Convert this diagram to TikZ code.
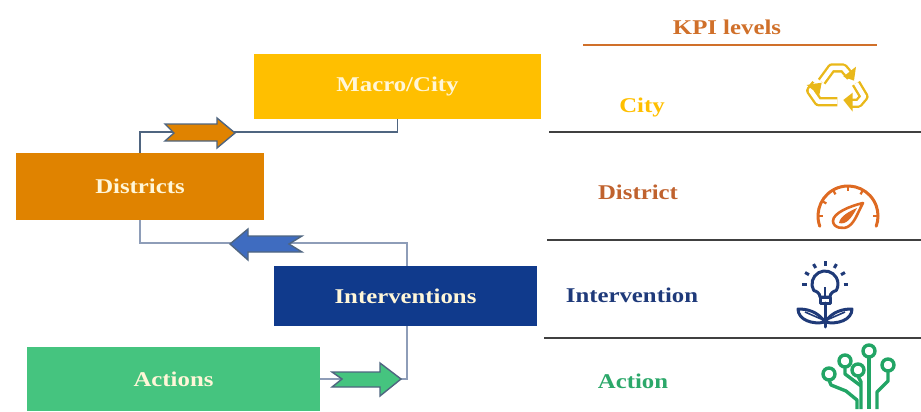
\documentclass[tikz,border=0pt]{standalone}
\usepackage{fontspec}
\setmainfont[FakeStretch=1.18]{Liberation Serif}
\usetikzlibrary{arrows.meta,calc}
\definecolor{cityY}{HTML}{FFBF00}
\definecolor{distO}{HTML}{E08300}
\definecolor{intB}{HTML}{103A8C}
\definecolor{actG}{HTML}{45C47F}
\definecolor{kpiO}{HTML}{D0702A}
\definecolor{distT}{HTML}{C0622E}
\definecolor{intT}{HTML}{1F3A7A}
\definecolor{actT}{HTML}{2CA86A}
\definecolor{wireA}{HTML}{4F6580}
\definecolor{wireB}{HTML}{8E9DB8}
\definecolor{blueA}{HTML}{3F6CC0}
\definecolor{iconR}{HTML}{DE6A22}
\definecolor{iconG}{HTML}{E9B81A}
\definecolor{iconN}{HTML}{1F3A78}
\definecolor{iconC}{HTML}{22A565}
\definecolor{cream}{HTML}{FFF6D8}
\tikzset{
  box/.style={rectangle,inner sep=0pt,text=cream,font=\fontsize{21}{21}\selectfont\bfseries},
  lvl/.style={inner sep=0pt,font=\fontsize{21}{21}\selectfont\bfseries},
  rule/.style={draw=black!75,line width=1.6pt},
  wire/.style={draw=wireA,line width=1.6pt},
  wirel/.style={draw=wireB,line width=2pt},
  blockarrow/.style={draw=wireA,line width=1.4pt,line join=miter},
  ic/.style={line width=3pt,line cap=round,line join=round},
  band/.style={draw=iconG,double=white,line width=2.4pt,double distance=4.5pt,line join=round}
}
\begin{document}
\begin{tikzpicture}[x=1pt,y=-1pt]
\useasboundingbox (0,0) rectangle (921,412);
% boxes
\node[box,fill=cityY,minimum width=287pt,minimum height=65pt] (macro) at (397.5,86.5) {Macro/City};
\node[box,fill=distO,minimum width=248pt,minimum height=67pt] (districts) at (140,186.5) {Districts};
\node[box,fill=intB,minimum width=263pt,minimum height=60pt] (interv) at (405.5,296) {Interventions};
\node[box,fill=actG,minimum width=293pt,minimum height=64pt] (actions) at (173.5,379) {Actions};
% connectors
\coordinate (jv) at (407,379);
\draw[wire] (macro.south) -- ++(0,12.5) -| (districts.north);
\draw[wirel] (districts.south) -- ++(0,23) -| ([xshift=1.5pt]interv.north);
\draw[wirel] ([xshift=1.5pt]interv.south) -- (jv) -- (actions.east |- jv);
% block arrows
\draw[blockarrow,fill=distO] (165,124)--(217,124)--(217,118)--(235,133)--(217,148)--(217,141)--(165,141)--(174,133)--cycle;
\draw[blockarrow,fill=blueA] (302,236)--(248,236)--(248,229)--(230,244)--(248,260)--(248,252)--(302,252)--(289,244)--cycle;
\draw[blockarrow,fill=actG] (332,372)--(380,372)--(380,363)--(401,379)--(380,396)--(380,387)--(332,387)--(342,379)--cycle;
% right column
\node[lvl,text=kpiO] (kpi) at (727,27) {KPI levels};
\coordinate (ka) at (583,45); \coordinate (kb) at (877,45);
\draw[kpiO,line width=1.2pt] (ka) -- (kb);
\coordinate (r1a) at (549,132); \coordinate (r1b) at (921,132);
\coordinate (r2a) at (547,240); \coordinate (r2b) at (921,240);
\coordinate (r3a) at (544,338); \coordinate (r3b) at (921,338);
\draw[rule] (r1a) -- (r1b);
\draw[rule] (r2a) -- (r2b);
\draw[rule] (r3a) -- (r3b);
\node[lvl,text=cityY] (lcity) at (642,107) {City};
\node[lvl,text=distT] (ldist) at (638,192) {District};
\node[lvl,text=intT] (lint) at (632,295) {Intervention};
\node[lvl,text=actT] (lact) at (633,381) {Action};
% recycle icon (coordinates in thirds of a pixel from 780,60)
\begin{scope}[shift={(780,60)},x=0.3333pt,y=-0.3333pt]
\draw[band] (125,65)--(155,24)--(190,24)--(212,50);
\draw[band] (228,70)--(252,110)--(235,130)--(210,130);
\draw[band] (172,125)--(115,125)--(92,92)--(108,72);
\fill[iconG] (228,20)--(222,62)--(190,50)--cycle;
\fill[iconG] (190,120)--(218,98)--(218,155)--cycle;
\fill[iconG] (80,75)--(125,68)--(118,105)--cycle;
\end{scope}
% gauge icon
\begin{scope}[shift={(848,216)},iconR]
\draw[ic] (160:30) arc[start angle=160,end angle=380,radius=30];
\foreach \a in {180,210,240,270,300,360}{
  \draw[line width=2.2pt] (\a:30) -- (\a:25);
}
\draw[line width=2.6pt,line join=round] (15,-13) .. controls (2,-10) and (-15,-3) .. (-15,5)
   .. controls (-15,12) and (-4,14) .. (1,10) .. controls (7,6) and (10,-4) .. (15,-13) -- cycle;
\fill (9,-8) .. controls (2,-5) and (-8,0) .. (-9,7) .. controls (-2,9) and (3,3) .. (9,-8);
\end{scope}
% bulb icon
\begin{scope}[shift={(825,284)},iconN]
\draw[ic] (-5,13) .. controls (-5,9) and (-9,7) .. (150:13) arc[start angle=150,end angle=390,radius=13] .. controls (9,7) and (5,9) .. (5,13) -- cycle;
\draw[ic] (-5,13) rectangle (5,19);
\draw[line width=2pt] (0,3) -- (0,13);
\draw[ic] (0,19) -- (0,43);
\draw[ic] (0,38) .. controls (-8,27) and (-18,25) .. (-27,25) .. controls (-27,36) and (-12,41) .. (0,38);
\draw[ic] (0,38) .. controls (8,27) and (18,25) .. (27,25) .. controls (27,36) and (12,41) .. (0,38);
\draw[line width=1.6pt] (-20,28) -- (-4,35);
\draw[line width=1.6pt] (20,28) -- (4,35);
\foreach \a in {180,210,240,270,300,330,360}{
  \draw[line width=3pt] (\a:18.5) -- (\a:23);
}
\end{scope}
% circuit icon
\begin{scope}[iconC,line width=3.4pt,line join=round]
\draw (829,374) circle[radius=6];
\draw (845,361) circle[radius=6];
\draw (858,370) circle[radius=6];
\draw (869,351) circle[radius=6];
\draw (888,365) circle[radius=6];
\draw (869,357) -- (869,409);
\draw (858,376) -- (861,382) -- (861,409);
\draw (845,367) -- (845,374) -- (861,386);
\draw (829,380) -- (831,385) -- (846,391) -- (857,400) -- (857,409);
\draw (888,371) -- (888,381) -- (877,392) -- (877,409);
\end{scope}
\end{tikzpicture}
\end{document}
